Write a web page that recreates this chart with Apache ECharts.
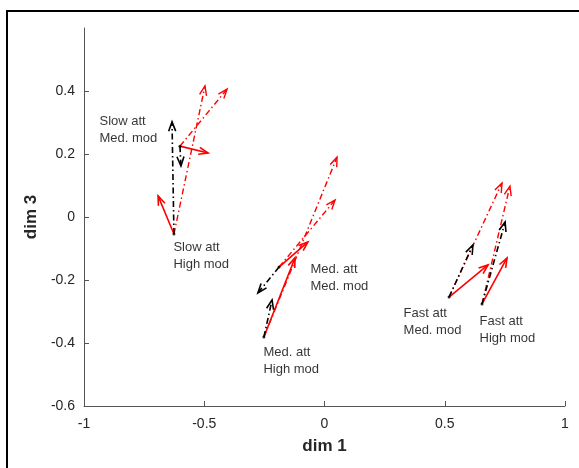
<!DOCTYPE html>
<html>
<head>
<meta charset="utf-8">
<script src="https://cdn.jsdelivr.net/npm/echarts@6/dist/echarts.min.js"></script>
<style>html,body{margin:0;padding:0;background:#fff;}#c{width:579px;height:468px;}</style>
</head>
<body>
<div id="c"></div>
<script>
// Condition labels and origins (dim 1, dim 3)
const groupNames = ['Slow att\nHigh mod', 'Slow att\nMed. mod', 'Med. att\nHigh mod', 'Med. att\nMed. mod', 'Fast att\nMed. mod', 'Fast att\nHigh mod'];
const originX = [-0.626, -0.601, -0.252, -0.189, 0.518, 0.655];
const originY = [-0.054, 0.225, -0.381, -0.159, -0.254, -0.276];
// Arrow end points per condition
const blackEndX = [-0.634, -0.597, -0.218, -0.277, 0.617, 0.751];
const blackEndY = [0.302, 0.162, -0.263, -0.241, -0.089, -0.016];
const redSolidEndX = [-0.692, -0.484, -0.123, -0.069, 0.680, 0.759];
const redSolidEndY = [0.067, 0.203, -0.130, -0.079, -0.152, -0.130];
const redDashEndX = [-0.497, -0.405, 0.052, 0.044, 0.738, 0.771];
const redDashEndY = [0.416, 0.406, 0.190, 0.054, 0.108, 0.098];
// Axis ticks
const xTicks = [-1, -0.5, 0, 0.5, 1];
const yTicks = [-0.6, -0.4, -0.2, 0, 0.2, 0.4, 0.6];

function arrowData(ex, ey) {
  return originX.map((x, i) => [x, originY[i], ex[i], ey[i]]);
}
function makeRender(color, dash, lw) {
  return function (params, api) {
    const p0 = api.coord([api.value(0), api.value(1)]);
    const p1 = api.coord([api.value(2), api.value(3)]);
    const ang = Math.atan2(p1[1] - p0[1], p1[0] - p0[0]);
    const hl = 10, ha = 0.36;
    const h1 = [p1[0] - hl * Math.cos(ang - ha), p1[1] - hl * Math.sin(ang - ha)];
    const h2 = [p1[0] - hl * Math.cos(ang + ha), p1[1] - hl * Math.sin(ang + ha)];
    return {
      type: 'group',
      children: [
        { type: 'line', shape: { x1: p0[0], y1: p0[1], x2: p1[0], y2: p1[1] },
          style: { stroke: color, lineWidth: lw, lineDash: dash, fill: null } },
        { type: 'polyline', shape: { points: [h1, p1, h2] },
          style: { stroke: color, lineWidth: lw, fill: null } }
      ]
    };
  };
}
const dd = [6, 3, 1.5, 3];
const labelPos = [[1, 6], [-79, -32], [1, 8], [33, -5], [-44, 9], [-1, 10]];

const chart = echarts.init(document.getElementById('c'));
const font = '"Liberation Sans", Arial, Helvetica, sans-serif';
chart.setOption({
  animation: false,
  backgroundColor: '#fff',
  grid: { left: 84, right: 14, top: 28, bottom: 62, containLabel: false },
  xAxis: {
    type: 'value', min: xTicks[0], max: xTicks[xTicks.length - 1], interval: 0.5,
    name: 'dim 1', nameLocation: 'middle', nameGap: 32, nameMoveOverlap: false,
    nameTextStyle: { fontFamily: font, fontSize: 17, fontWeight: 'bold', color: '#262626' },
    axisLine: { onZero: false, lineStyle: { color: '#555', width: 1 } },
    axisTick: { inside: true, length: 5, lineStyle: { color: '#555' } },
    axisLabel: { fontFamily: font, fontSize: 14, color: '#262626', margin: 11 },
    splitLine: { show: false }
  },
  yAxis: {
    type: 'value', min: yTicks[0], max: yTicks[yTicks.length - 1], interval: 0.2,
    name: 'dim 3', nameLocation: 'middle', nameGap: 44, nameRotate: 90, nameMoveOverlap: false,
    nameTextStyle: { fontFamily: font, fontSize: 17, fontWeight: 'bold', color: '#262626' },
    axisLine: { show: true, onZero: false, lineStyle: { color: '#555', width: 1 } },
    axisTick: { show: true, inside: true, length: 5, lineStyle: { color: '#555' } },
    axisLabel: { fontFamily: font, fontSize: 14, color: '#262626', margin: 9, showMaxLabel: false,
      formatter: v => (Math.abs(v - 0.6) < 1e-9 ? '' : String(Math.round(v * 10) / 10)) },
    splitLine: { show: false }
  },
  graphic: [{ type: 'rect', shape: { x: 7, y: 11, width: 640, height: 520 },
    style: { fill: null, stroke: '#000', lineWidth: 2 }, z: 100 }],
  series: [
    { type: 'custom', renderItem: makeRender('#ff0000', dd, 1.4), data: arrowData(redDashEndX, redDashEndY), encode: { x: [0, 2], y: [1, 3] }, z: 2 },
    { type: 'custom', renderItem: makeRender('#ff0000', null, 1.6), data: arrowData(redSolidEndX, redSolidEndY), encode: { x: [0, 2], y: [1, 3] }, z: 3 },
    { type: 'custom', renderItem: makeRender('#000000', dd, 1.6), data: arrowData(blackEndX, blackEndY), encode: { x: [0, 2], y: [1, 3] }, z: 4 },
    {
      type: 'scatter', symbol: 'circle', symbolSize: 3, itemStyle: { color: '#000' }, z: 5,
      data: originX.map((x, i) => ({
        value: [x, originY[i]], name: groupNames[i],
        label: { position: labelPos[i] }
      })),
      label: { show: true, formatter: p => p.name, align: 'left', verticalAlign: 'top',
        fontFamily: font, fontSize: 13, lineHeight: 17, color: '#000' }
    }
  ]
});
</script>
</body>
</html>
